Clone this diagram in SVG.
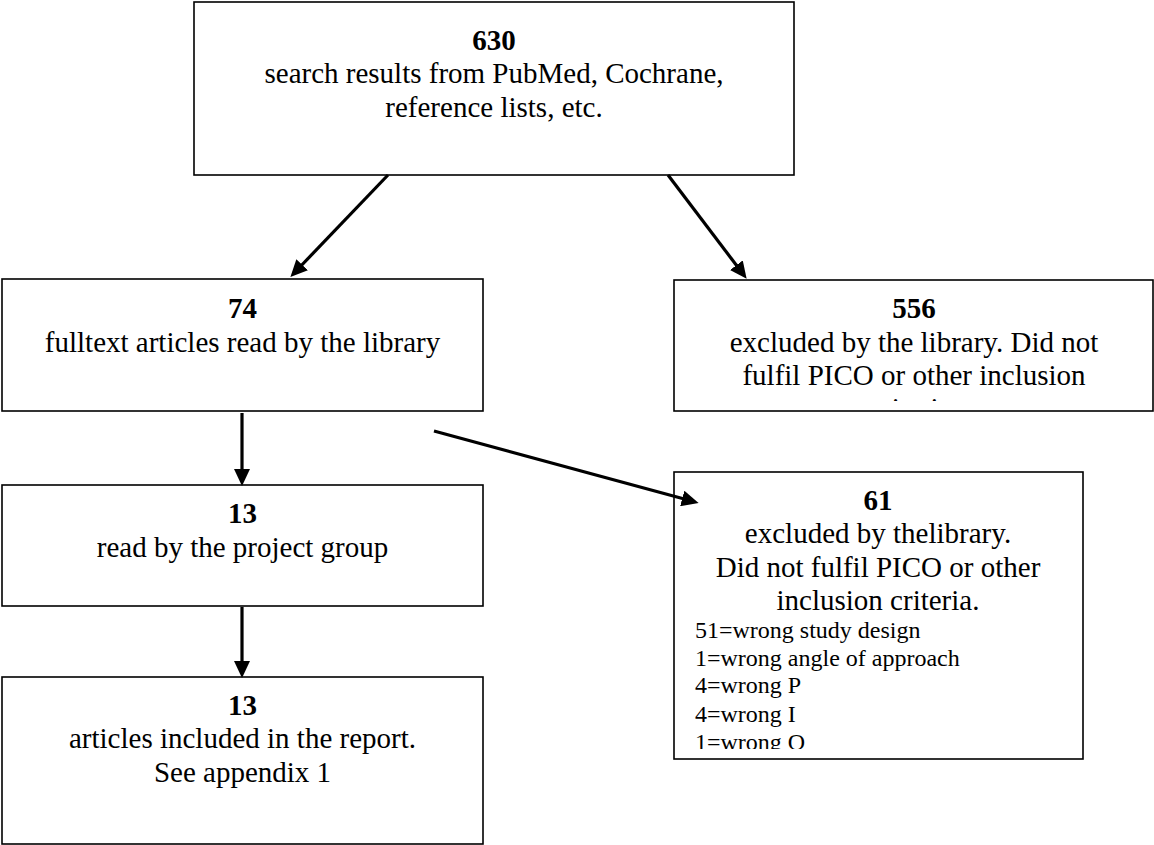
<svg xmlns="http://www.w3.org/2000/svg" width="1154" height="845" viewBox="0 0 1154 845">
<style>
.box{fill:#fff;stroke:#000;stroke-width:1.6}
.t{font-family:"Liberation Serif","Times New Roman",serif;font-size:29px;fill:#000;text-anchor:middle}
.b{font-weight:bold}
.s{font-family:"Liberation Serif","Times New Roman",serif;font-size:24px;fill:#000}
.conn{stroke:#000;stroke-width:3.2;fill:none;marker-end:url(#ah)}
</style>
<defs>
<marker id="ah" markerUnits="userSpaceOnUse" markerWidth="18" markerHeight="16" refX="6" refY="8" orient="auto">
<path d="M0,0 L17,8 L0,16 z" fill="#000"/>
</marker>
<clipPath id="c556"><rect x="674" y="280" width="480" height="121"/></clipPath>
<clipPath id="c61"><rect x="674" y="472" width="409" height="277"/></clipPath>
</defs>
<g id="n630">
<rect class="box" x="194" y="2" width="600" height="173"/>
<text class="t b" x="494" y="50">630</text>
<text class="t" x="494" y="83">search results from PubMed, Cochrane,</text>
<text class="t" x="494" y="117">reference lists, etc.</text>
</g>
<g id="n74">
<rect class="box" x="2" y="279" width="481" height="132"/>
<text class="t b" x="242.5" y="318">74</text>
<text class="t" x="242.5" y="352">fulltext articles read by the library</text>
</g>
<g id="n556">
<rect class="box" x="674" y="280" width="479" height="131"/>
<g clip-path="url(#c556)">
<text class="t b" x="914" y="318">556</text>
<text class="t" x="914" y="352">excluded by the library. Did not</text>
<text class="t" x="914" y="385">fulfil PICO or other inclusion</text>
<text class="t" x="914" y="418">criteria.</text>
</g>
</g>
<g id="n13a">
<rect class="box" x="2" y="485" width="481" height="121"/>
<text class="t b" x="242.5" y="523">13</text>
<text class="t" x="242.5" y="557">read by the project group</text>
</g>
<g id="n61">
<rect class="box" x="674" y="472" width="409" height="287"/>
<g clip-path="url(#c61)">
<text class="t b" x="878" y="510">61</text>
<text class="t" x="878" y="543">excluded by thelibrary.</text>
<text class="t" x="878" y="577">Did not fulfil PICO or other</text>
<text class="t" x="878" y="610">inclusion criteria.</text>
<text class="s" x="695" y="638">51=wrong study design</text>
<text class="s" x="695" y="666">1=wrong angle of approach</text>
<text class="s" x="695" y="693">4=wrong P</text>
<text class="s" x="695" y="722">4=wrong I</text>
<text class="s" x="695" y="750">1=wrong O</text>
</g>
</g>
<g id="n13b">
<rect class="box" x="2" y="677" width="481" height="167"/>
<text class="t b" x="242.5" y="715">13</text>
<text class="t" x="242.5" y="748">articles included in the report.</text>
<text class="t" x="242.5" y="782">See appendix 1</text>
</g>
<g id="connectors">
<line class="conn" x1="388" y1="175" x2="298" y2="269"/>
<line class="conn" x1="668" y1="175" x2="740" y2="270"/>
<line class="conn" x1="242" y1="413" x2="242" y2="475"/>
<line class="conn" x1="242" y1="607" x2="242" y2="667"/>
<line class="conn" x1="434" y1="431" x2="688" y2="500"/>
</g>
</svg>
